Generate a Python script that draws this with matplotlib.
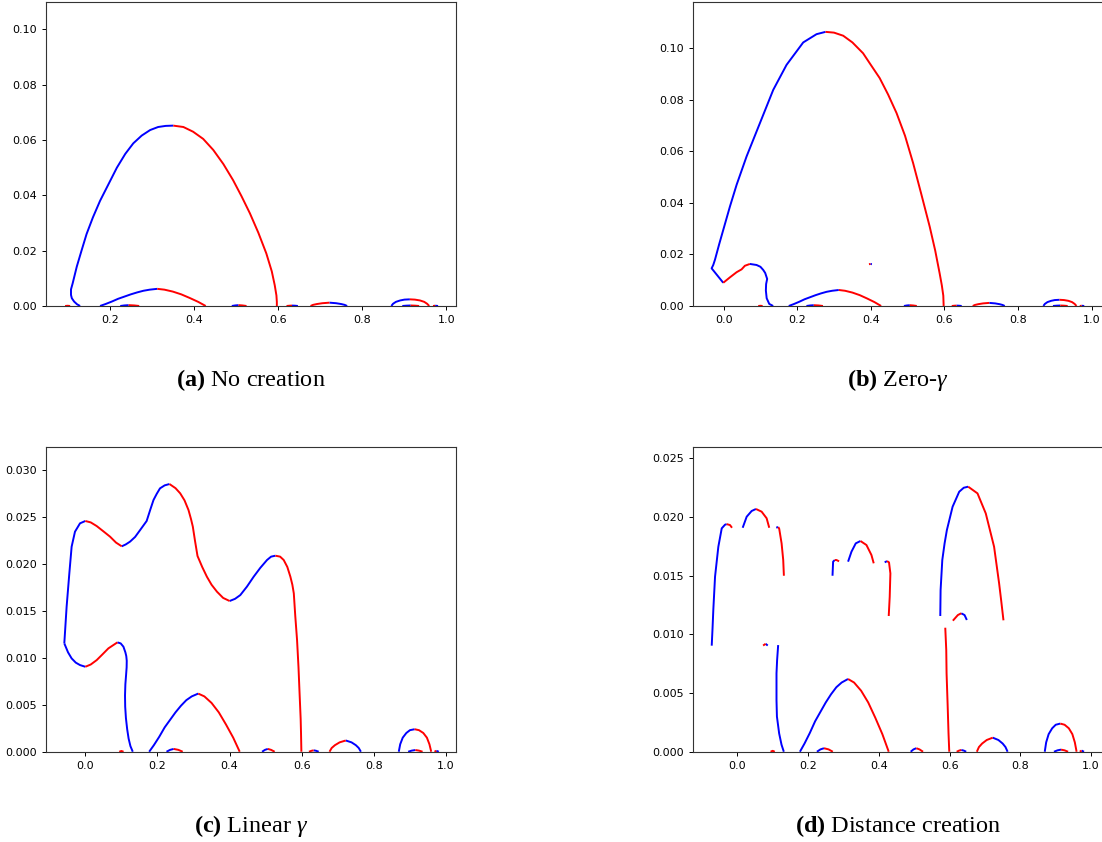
import matplotlib
matplotlib.use("Agg")
import matplotlib.pyplot as plt

plt.rcParams['mathtext.fontset'] = 'custom'
plt.rcParams['mathtext.rm'] = 'Liberation Serif'
plt.rcParams['mathtext.it'] = 'Liberation Serif:italic'
plt.rcParams['mathtext.bf'] = 'Liberation Serif:bold'

# curve pieces shared by all four panels (bottom arcs and tiny bumps)
shared_blue = [
    ([0.177, 0.19, 0.205, 0.22, 0.235, 0.25, 0.265, 0.28, 0.295, 0.313],
     [0, 0.0007, 0.0016, 0.0026, 0.0034, 0.0042, 0.0049, 0.0055, 0.0059, 0.0062]),
    ([0.722, 0.738, 0.75, 0.758, 0.764], [0.0012, 0.001, 0.0007, 0.0004, 0]),
    ([0.869, 0.873, 0.88, 0.89, 0.9, 0.913], [0, 0.0008, 0.0015, 0.002, 0.0023, 0.0024]),
    ([0.225, 0.235, 0.245], [0, 0.0002, 0.0003]),
    ([0.49, 0.498, 0.506], [0, 0.0002, 0.0003]),
    ([0.633, 0.64, 0.647], [0.00015, 0.0001, 0]),
    ([0.895, 0.905, 0.915], [0, 0.00012, 0.00018]),
    ([0.973, 0.98], [0.0001, 0]),
]
shared_red = [
    ([0.313, 0.33, 0.35, 0.37, 0.39, 0.41, 0.428],
     [0.0062, 0.0059, 0.0052, 0.0042, 0.0029, 0.0015, 0]),
    ([0.677, 0.683, 0.692, 0.705, 0.722], [0, 0.0004, 0.0007, 0.001, 0.0012]),
    ([0.913, 0.925, 0.937, 0.947, 0.954, 0.959], [0.0024, 0.0023, 0.002, 0.0015, 0.0008, 0]),
    ([0.245, 0.258, 0.27], [0.0003, 0.0002, 0]),
    ([0.506, 0.515, 0.525], [0.0003, 0.0002, 0]),
    ([0.62, 0.627, 0.633], [0, 0.0001, 0.00015]),
    ([0.915, 0.925, 0.935], [0.00018, 0.00012, 0]),
    ([0.968, 0.973], [0, 0.0001]),
    ([0.094, 0.1, 0.106], [0, 0.00008, 0]),
]

# (a) No creation
a_blue = [
    ([0.1296, 0.1225, 0.1154, 0.110, 0.108, 0.108, 0.112, 0.1217, 0.133, 0.145, 0.16, 0.177,
      0.197, 0.217, 0.237, 0.256, 0.276, 0.296, 0.315, 0.333, 0.351],
     [0, 0.0006, 0.0016, 0.0028, 0.004, 0.006, 0.0082, 0.0142, 0.02, 0.026, 0.032, 0.038,
      0.044, 0.05, 0.055, 0.0588, 0.0616, 0.0636, 0.0647, 0.0651, 0.0652]),
]
a_red = [
    ([0.351, 0.375, 0.398, 0.422, 0.446, 0.47, 0.493, 0.513, 0.533, 0.553, 0.572, 0.585,
      0.592, 0.596, 0.597, 0.597],
     [0.0652, 0.0647, 0.063, 0.0604, 0.0564, 0.0513, 0.0455, 0.0397, 0.0335, 0.0265, 0.019,
      0.0125, 0.0075, 0.0038, 0.0015, 0]),
]

# (b) Zero-gamma
b_blue = [
    ([-0.001, -0.0326, -0.0282, -0.0236, -0.012, -0.001, 0.0172, 0.0353, 0.0624, 0.0986,
      0.1348, 0.171, 0.2163, 0.2525, 0.277],
     [0.009, 0.0146, 0.0159, 0.0179, 0.024, 0.0295, 0.0386, 0.047, 0.058, 0.0709,
      0.0838, 0.0935, 0.1022, 0.1054, 0.1063]),
    ([0.0714, 0.0895, 0.1, 0.1075, 0.113, 0.1183, 0.1155, 0.1148, 0.117, 0.124, 0.1346],
     [0.0163, 0.0159, 0.0152, 0.014, 0.0128, 0.0105, 0.0085, 0.006, 0.003, 0.0008, 0]),
    ([0.399, 0.403], [0.0163, 0.0162]),
]
b_red = [
    ([0.277, 0.30, 0.325, 0.35, 0.379, 0.40, 0.424, 0.447, 0.47, 0.493, 0.515, 0.537, 0.56,
      0.575, 0.587, 0.593, 0.597, 0.598],
     [0.1063, 0.106, 0.1048, 0.1022, 0.098, 0.0935, 0.0884, 0.082, 0.0748, 0.066, 0.0554,
      0.0435, 0.0308, 0.0215, 0.0127, 0.008, 0.004, 0]),
    ([-0.001, 0.0171, 0.0353, 0.0488, 0.0578, 0.0714],
     [0.009, 0.0111, 0.0131, 0.0142, 0.0156, 0.0163]),
    ([0.395, 0.399], [0.0162, 0.0163]),
]

# (c) Linear gamma
c_blue = [
    ([-0.0583, -0.0519, -0.0444, -0.038, -0.0287, -0.0148, 0],
     [0.01155, 0.01546, 0.019, 0.02186, 0.02346, 0.02435, 0.0246]),
    ([0.1009, 0.112, 0.124, 0.138, 0.152, 0.170, 0.180, 0.189, 0.198, 0.207, 0.22, 0.2333],
     [0.0219, 0.0221, 0.0224, 0.0229, 0.02364, 0.0246, 0.0258, 0.02684, 0.0275, 0.02808,
      0.0284, 0.02854]),
    ([0.4, 0.415, 0.4296, 0.448, 0.4667, 0.485, 0.5037, 0.515, 0.527],
     [0.01607, 0.0163, 0.0167, 0.0176, 0.01866, 0.0196, 0.02044, 0.0208, 0.0209]),
    ([-0.0583, -0.048, -0.038, -0.0265, -0.0148, 0],
     [0.01155, 0.0106, 0.00995, 0.0095, 0.00924, 0.00906]),
    ([0.0889, 0.098, 0.1056, 0.111, 0.1135, 0.1148, 0.1145, 0.113, 0.111, 0.110, 0.1105,
      0.1125, 0.116, 0.12, 0.125, 0.1315],
     [0.01166, 0.01155, 0.0112, 0.0106, 0.0102, 0.0097, 0.009, 0.0082, 0.0072, 0.006,
      0.0048, 0.0036, 0.0024, 0.0014, 0.0006, 0]),
]
c_red = [
    ([0, 0.015, 0.0315, 0.05, 0.0685, 0.085, 0.1009],
     [0.0246, 0.02445, 0.02406, 0.0235, 0.02293, 0.0223, 0.0219]),
    ([0.2333, 0.25, 0.263, 0.275, 0.286, 0.293, 0.298, 0.304, 0.311, 0.324, 0.337, 0.35,
      0.365, 0.382, 0.4],
     [0.02854, 0.0281, 0.02755, 0.0268, 0.02577, 0.0248, 0.024, 0.0225, 0.02087, 0.0197,
      0.01866, 0.0178, 0.01706, 0.0164, 0.01607]),
    ([0.527, 0.54, 0.55, 0.56, 0.5685, 0.574, 0.578, 0.582, 0.587, 0.591, 0.594, 0.597,
      0.598, 0.599],
     [0.0209, 0.0208, 0.02044, 0.0197, 0.01866, 0.0178, 0.01688, 0.0145, 0.01191, 0.009,
      0.00622, 0.0035, 0.00196, 0]),
    ([0, 0.015, 0.0315, 0.048, 0.0639, 0.0889],
     [0.00906, 0.0093, 0.00977, 0.0104, 0.01102, 0.01166]),
]

# (d) Distance creation
d_blue = [
    ([-0.0723, -0.0700, -0.0677, -0.0629, -0.0536, -0.044, -0.0347, -0.030],
     [0.00904, 0.0105, 0.01214, 0.01492, 0.01747, 0.01904, 0.01935, 0.0194]),
    ([0.0152, 0.0265, 0.0406, 0.0528], [0.01909, 0.02003, 0.02052, 0.02069]),
    ([0.110, 0.116], [0.0191, 0.01915]),
    ([0.2691, 0.2708, 0.2756], [0.015, 0.0162, 0.01634]),
    ([0.3131, 0.3227, 0.3348, 0.3481], [0.0162, 0.01705, 0.01776, 0.01796]),
    ([0.4166, 0.4232], [0.01614, 0.01625]),
    ([0.5737, 0.5746, 0.5794, 0.5859, 0.5924, 0.6085, 0.6272, 0.64, 0.6526],
     [0.01157, 0.01378, 0.01634, 0.01776, 0.0189, 0.02088, 0.02216, 0.0225, 0.02259]),
    ([0.633, 0.6423, 0.6488], [0.0118, 0.01165, 0.01123]),
    ([0.08, 0.086], [0.0092, 0.00905]),
    ([0.1155, 0.1125, 0.1108, 0.1108, 0.112, 0.1183, 0.125, 0.1315],
     [0.00909, 0.0078, 0.00668, 0.0044, 0.003, 0.00156, 0.0006, 0]),
]
d_red = [
    ([-0.030, -0.0206, -0.015], [0.0194, 0.01932, 0.01909]),
    ([0.0528, 0.0688, 0.0829, 0.0903], [0.02069, 0.02046, 0.0199, 0.01909]),
    ([0.116, 0.1185, 0.1252, 0.1298, 0.1317], [0.01915, 0.019, 0.01776, 0.01634, 0.015]),
    ([0.2756, 0.2804, 0.2877], [0.01634, 0.01634, 0.01623]),
    ([0.3481, 0.365, 0.3791, 0.3856], [0.01796, 0.01762, 0.01677, 0.01606]),
    ([0.4232, 0.4288, 0.4327, 0.4308, 0.428], [0.01625, 0.01614, 0.0152, 0.01321, 0.01157]),
    ([0.6526, 0.6789, 0.7023, 0.7258, 0.74, 0.7458, 0.7523],
     [0.02259, 0.02202, 0.02031, 0.01747, 0.01435, 0.0129, 0.0112]),
    ([0.6093, 0.6234, 0.633], [0.01117, 0.01165, 0.0118]),
    ([0.5878, 0.5906, 0.5915, 0.5945, 0.597, 0.5991], [0.01057, 0.00867, 0.00668, 0.004, 0.00156, 0]),
    ([0.073, 0.08], [0.00905, 0.0092]),
]

captions = [r"$\mathbf{(a)}$ No creation", r"$\mathbf{(b)}$ Zero-$\gamma$",
            r"$\mathbf{(c)}$ Linear $\gamma$", r"$\mathbf{(d)}$ Distance creation"]
xlims = [(0.048, 1.0226), (-0.084, 1.031), (-0.1098, 1.0277), (-0.126, 1.0336)]
ylims = [(0, 0.11), (0, 0.118), (0, 0.03246), (0, 0.02595)]
yticks = [[0, 0.02, 0.04, 0.06, 0.08, 0.10], [0, 0.02, 0.04, 0.06, 0.08, 0.10],
          [0, 0.005, 0.01, 0.015, 0.02, 0.025, 0.03], [0, 0.005, 0.01, 0.015, 0.02, 0.025]]
yfmt = ["%.2f", "%.2f", "%.3f", "%.3f"]

panels = [(a_blue, a_red), (b_blue, b_red), (c_blue, c_red), (d_blue, d_red)]
rects = [[0.0415, 0.6366, 0.3723, 0.3614], [0.6286, 0.6366, 0.3723, 0.3614],
         [0.0415, 0.1072, 0.3723, 0.3616], [0.6286, 0.1072, 0.3723, 0.3616]]
cap_y = [0.5487, 0.5487, 0.019, 0.019]

fig = plt.figure(figsize=(11.02, 8.42), dpi=100)
for i, (blues, reds) in enumerate(panels):
    ax = fig.add_axes(rects[i])
    for xs, ys in blues + shared_blue:
        ax.plot(xs, ys, color='blue', lw=1.4, solid_capstyle='butt', solid_joinstyle='round')
    for xs, ys in reds + shared_red:
        ax.plot(xs, ys, color='red', lw=1.4, solid_capstyle='butt', solid_joinstyle='round')
    ax.set_xlim(*xlims[i])
    ax.set_ylim(*ylims[i])
    ax.set_xticks([0.0, 0.2, 0.4, 0.6, 0.8, 1.0] if i != 0 else [0.2, 0.4, 0.6, 0.8, 1.0])
    ax.set_yticks(yticks[i])
    ax.set_xticklabels(["%.1f" % t for t in ax.get_xticks()])
    ax.set_yticklabels([yfmt[i] % t for t in yticks[i]])
    ax.tick_params(labelsize=8, length=3, width=0.7)
    for s in ax.spines.values():
        s.set_linewidth(0.8)
        s.set_color('#333333')
    r = rects[i]
    fig.text(r[0] + r[2] / 2, cap_y[i], captions[i], ha='center', va='center',
             fontsize=17.5, family='Liberation Serif')

fig.savefig("out.png", dpi=100)
